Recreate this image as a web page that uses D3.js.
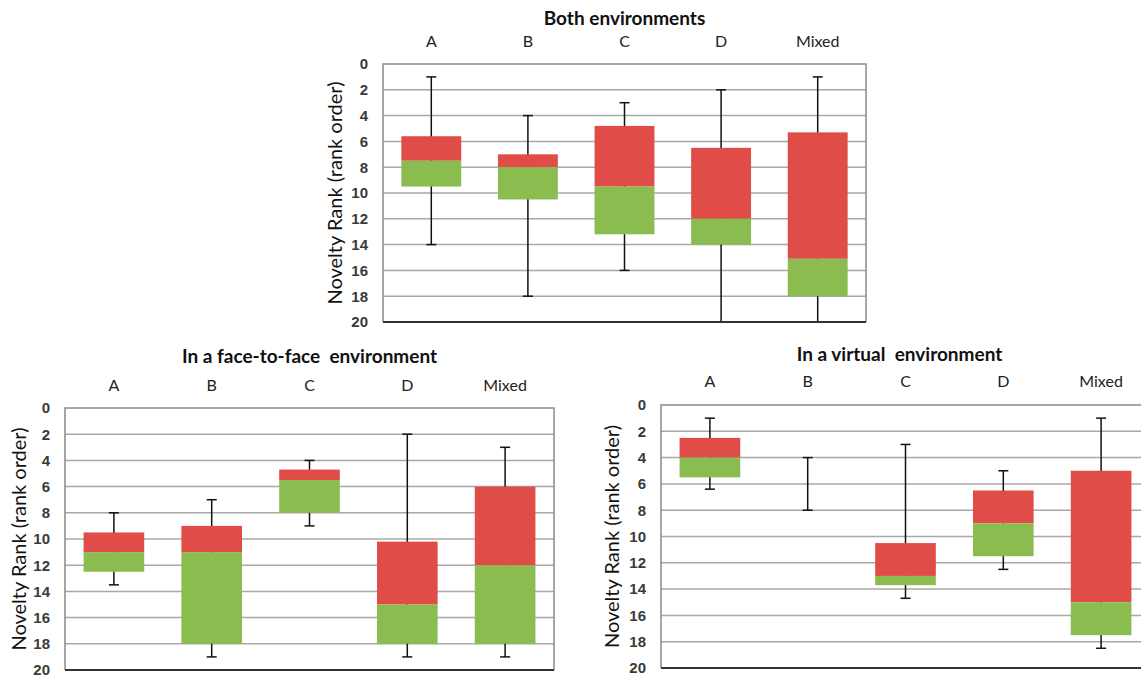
<!DOCTYPE html>
<html>
<head>
<meta charset="utf-8">
<script src="https://cdn.jsdelivr.net/npm/d3@7"></script>
<style>
  body { margin: 0; background: #fff; }
  svg { font-family: Lato, "Open Sans", sans-serif; }
  .tick text { fill: #3a3a3a; font-weight: bold; font-size: 15px; }
  .title { font-weight: bold; font-size: 19px; fill: #111; white-space: pre; }
  .cat { font-size: 16px; fill: #222; }
  .ylab { font-size: 20px; fill: #111; }
</style>
</head>
<body>
<svg width="1141" height="677"></svg>
<script>
var categories = ["A", "B", "C", "D", "Mixed"];
var yTicks = [0, 2, 4, 6, 8, 10, 12, 14, 16, 18, 20];

// both environments
var bothMin = [1, 4, 3, 2, 1];
var bothQ1 = [5.6, 7, 4.8, 6.5, 5.3];
var bothMed = [7.5, 8, 9.5, 12, 15.1];
var bothQ3 = [9.5, 10.5, 13.2, 14, 18];
var bothMax = [14, 18, 16, 20, 20];

// face-to-face
var f2fMin = [8, 7, 4, 2, 3];
var f2fQ1 = [9.5, 9, 4.7, 10.2, 6];
var f2fMed = [11, 11, 5.5, 15, 12];
var f2fQ3 = [12.5, 18, 8, 18, 18];
var f2fMax = [13.5, 19, 9, 19, 19];

// virtual (B has no box)
var virMin = [1, 4, 3, 5, 1];
var virQ1 = [2.5, null, 10.5, 6.5, 5];
var virMed = [4, null, 13, 9, 15];
var virQ3 = [5.5, null, 13.7, 11.5, 17.5];
var virMax = [6.4, 8, 14.7, 12.5, 18.5];

var svg = d3.select("svg");

function rows(mn, q1, md, q3, mx) {
    return categories.map(function (c, i) {
        return {cat: c, min: mn[i], q1: q1[i], med: md[i], q3: q3[i], max: mx[i]};
    });
}

function Panel(opts, data) {
    var x = d3.scaleBand().domain(categories).range([opts.left, opts.right]);
    var y = d3.scaleLinear().domain([0, 20]).range([opts.top, opts.bottom]);
    var g = svg.append("g");

    g.append("text")
        .attr("class", "title")
        .attr("x", (opts.left + opts.right) / 2 + (opts.titleDx || 0))
        .attr("y", opts.titleY)
        .attr("text-anchor", "middle")
        .text(opts.title);

    g.selectAll(".cat")
        .data(categories)
        .enter().append("text")
        .attr("class", "cat")
        .attr("x", d => x(d) + x.bandwidth() / 2)
        .attr("y", opts.catY)
        .attr("text-anchor", "middle")
        .text(d => d);

    // grid
    g.selectAll(".grid")
        .data(yTicks.slice(1, -1))
        .enter().append("line")
        .attr("x1", opts.left).attr("x2", opts.right)
        .attr("y1", d => y(d)).attr("y2", d => y(d))
        .attr("stroke", "#a8a8a8").attr("stroke-width", 1.5);

    // frame
    g.append("path")
        .attr("d", "M" + opts.left + "," + opts.bottom + "V" + opts.top + "H" + opts.right + "V" + opts.bottom)
        .attr("fill", "none").attr("stroke", "#8a8a8a").attr("stroke-width", 1.5);

    g.append("g")
        .attr("transform", "translate(" + opts.left + ",0)")
        .call(d3.axisLeft(y).tickValues(yTicks).tickSize(0).tickPadding(15))
        .call(s => s.select(".domain").remove());

    g.append("text")
        .attr("class", "ylab")
        .attr("transform", "translate(" + opts.ylabX + "," + (opts.top + opts.bottom) / 2 + ") rotate(-90)")
        .attr("text-anchor", "middle")
        .attr("dy", "0.35em")
        .text("Novelty Rank (rank order)");

    var cx = d => x(d.cat) + x.bandwidth() / 2;
    var bw = x.bandwidth() * 0.62;

    // whiskers
    g.selectAll(".wh")
        .data(data)
        .enter().append("line")
        .attr("x1", cx).attr("x2", cx)
        .attr("y1", d => y(d.min)).attr("y2", d => y(d.max))
        .attr("stroke", "#111").attr("stroke-width", 1.5);
    ["min", "max"].forEach(function (k) {
        g.selectAll(".cap" + k)
            .data(data.filter(d => d[k] > 0 && d[k] < 20))
            .enter().append("line")
            .attr("x1", d => cx(d) - 5).attr("x2", d => cx(d) + 5)
            .attr("y1", d => y(d[k])).attr("y2", d => y(d[k]))
            .attr("stroke", "#111").attr("stroke-width", 1.5);
    });

    var boxes = data.filter(d => d.q1 != null);
    g.selectAll(".upper")
        .data(boxes)
        .enter().append("rect")
        .attr("x", d => cx(d) - bw / 2).attr("width", bw)
        .attr("y", d => y(d.q1)).attr("height", d => y(d.med) - y(d.q1))
        .attr("fill", "#e04c48");
    g.selectAll(".lower")
        .data(boxes)
        .enter().append("rect")
        .attr("x", d => cx(d) - bw / 2).attr("width", bw)
        .attr("y", d => y(d.med)).attr("height", d => y(d.q3) - y(d.med))
        .attr("fill", "#8bbc4f");

    // bottom axis line
    g.append("line")
        .attr("x1", opts.left).attr("x2", opts.right)
        .attr("y1", opts.bottom).attr("y2", opts.bottom)
        .attr("stroke", "#333").attr("stroke-width", 2);
}

Panel({title: "Both environments", left: 383, right: 866, top: 64, bottom: 322,
       titleY: 25, catY: 47, ylabX: 335},
      rows(bothMin, bothQ1, bothMed, bothQ3, bothMax));
Panel({title: "In a face-to-face  environment", left: 65, right: 554, top: 408, bottom: 670,
       titleY: 363, catY: 391, ylabX: 19},
      rows(f2fMin, f2fQ1, f2fMed, f2fQ3, f2fMax));
Panel({title: "In a virtual  environment", left: 661, right: 1150, top: 405, bottom: 668,
       titleY: 361, catY: 387, ylabX: 612, titleDx: -6},
      rows(virMin, virQ1, virMed, virQ3, virMax));
</script>
</body>
</html>
